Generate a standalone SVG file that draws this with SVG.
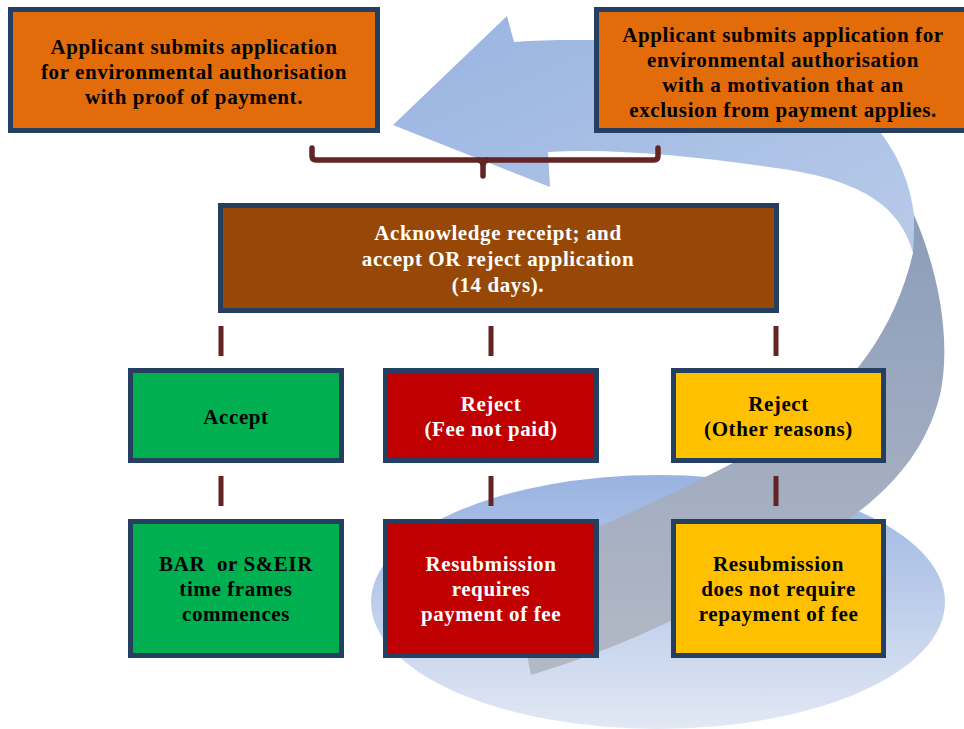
<svg xmlns="http://www.w3.org/2000/svg" width="964" height="729" viewBox="0 0 964 729">
<defs>
<linearGradient id="gEll" x1="0" y1="0" x2="0" y2="1">
<stop offset="0" stop-color="#98B3E1"/>
<stop offset="1" stop-color="#E2E8F4"/>
</linearGradient>
<linearGradient id="gBlue" x1="0" y1="0" x2="1" y2="1">
<stop offset="0" stop-color="#98B4E1"/>
<stop offset="1" stop-color="#B8CAE9"/>
</linearGradient>
<linearGradient id="gGray" gradientUnits="userSpaceOnUse" x1="0" y1="215" x2="0" y2="675">
<stop offset="0" stop-color="#8C9DBB"/>
<stop offset="1" stop-color="#B3B9C5"/>
</linearGradient>
<style>
.box{stroke:#243F60;stroke-width:5}
.or{fill:#E36C0A}.br{fill:#974806}.gr{fill:#00B050}.rd{fill:#C00000}.ye{fill:#FFC000}
text{font-family:"Liberation Serif","Times New Roman",serif;font-weight:bold;font-size:21px;letter-spacing:0.6px;text-anchor:middle}
.k{fill:#000000}.w{fill:#FFFFFF}
.link{fill:#632523}
.brace{fill:none;stroke:#632523;stroke-width:5.5;stroke-linecap:round;stroke-linejoin:round}
</style>
</defs>
<g id="background">
<ellipse cx="658" cy="602" rx="287" ry="127" fill="url(#gEll)"/>
<path d="M393 125 L507 16 L514 42 C640 34 800 50 865 115 C895 145 910 180 914 215 L913 253 C900 205 860 182 790 170 C700 157 620 148 548 152 L550 187 Z" fill="url(#gBlue)"/>
<path d="M914 215 C938 270 952 340 940 395 C925 455 885 495 840 525 C760 578 650 640 531 675 L510 565 C620 518 720 475 790 430 C850 390 895 330 913 253 Z" fill="url(#gGray)"/>
</g>
<g id="connectors">
<path class="brace" d="M312 148 L312 156 Q312 160 316 160 L654 160 Q658 160 658 156 L658 148"/>
<path class="brace" d="M479 160 Q483 161 483 166 L483 176 M487 160 Q483 161 483 166"/>
<rect class="link" x="218.5" y="326" width="5" height="30"/>
<rect class="link" x="488.5" y="326" width="5" height="30"/>
<rect class="link" x="773.5" y="326" width="5" height="30"/>
<rect class="link" x="218.5" y="476" width="5" height="30"/>
<rect class="link" x="488.5" y="476" width="5" height="30"/>
<rect class="link" x="773.5" y="476" width="5" height="30"/>
</g>
<g id="n1">
<rect class="box or" x="10.5" y="9.5" width="367" height="121"/>
<text class="k" x="194" y="54">Applicant submits application</text>
<text class="k" x="194" y="79">for environmental authorisation</text>
<text class="k" x="194" y="104">with proof of payment.</text>
</g>
<g id="n2">
<rect class="box or" x="596.5" y="9.5" width="380" height="121"/>
<text class="k" x="783" y="42">Applicant submits application for</text>
<text class="k" x="783" y="67">environmental authorisation</text>
<text class="k" x="783" y="92">with a motivation that an</text>
<text class="k" x="783" y="117">exclusion from payment applies.</text>
</g>
<g id="n3">
<rect class="box br" x="220.5" y="205.5" width="556" height="105"/>
<text class="w" x="498" y="240">Acknowledge receipt; and</text>
<text class="w" x="498" y="266">accept OR reject application</text>
<text class="w" x="498" y="292">(14 days).</text>
</g>
<g id="accept">
<rect class="box gr" x="130.5" y="370.5" width="211" height="90"/>
<text class="k" x="236" y="424">Accept</text>
</g>
<g id="reject-fee">
<rect class="box rd" x="385.5" y="370.5" width="211" height="90"/>
<text class="w" x="491" y="411">Reject</text>
<text class="w" x="491" y="436">(Fee not paid)</text>
</g>
<g id="reject-other">
<rect class="box ye" x="673.5" y="370.5" width="210" height="90"/>
<text class="k" x="778.5" y="411">Reject</text>
<text class="k" x="778.5" y="436">(Other reasons)</text>
</g>
<g id="bar">
<rect class="box gr" x="130.5" y="521.5" width="211" height="134"/>
<text class="k" x="236" y="571" xml:space="preserve">BAR  or S&amp;EIR</text>
<text class="k" x="236" y="596">time frames</text>
<text class="k" x="236" y="621">commences</text>
</g>
<g id="resub-fee">
<rect class="box rd" x="385.5" y="521.5" width="211" height="134"/>
<text class="w" x="491" y="571">Resubmission</text>
<text class="w" x="491" y="596">requires</text>
<text class="w" x="491" y="621">payment of fee</text>
</g>
<g id="resub-nofee">
<rect class="box ye" x="673.5" y="521.5" width="210" height="134"/>
<text class="k" x="778.5" y="571">Resubmission</text>
<text class="k" x="778.5" y="596">does not require</text>
<text class="k" x="778.5" y="621">repayment of fee</text>
</g>
</svg>
